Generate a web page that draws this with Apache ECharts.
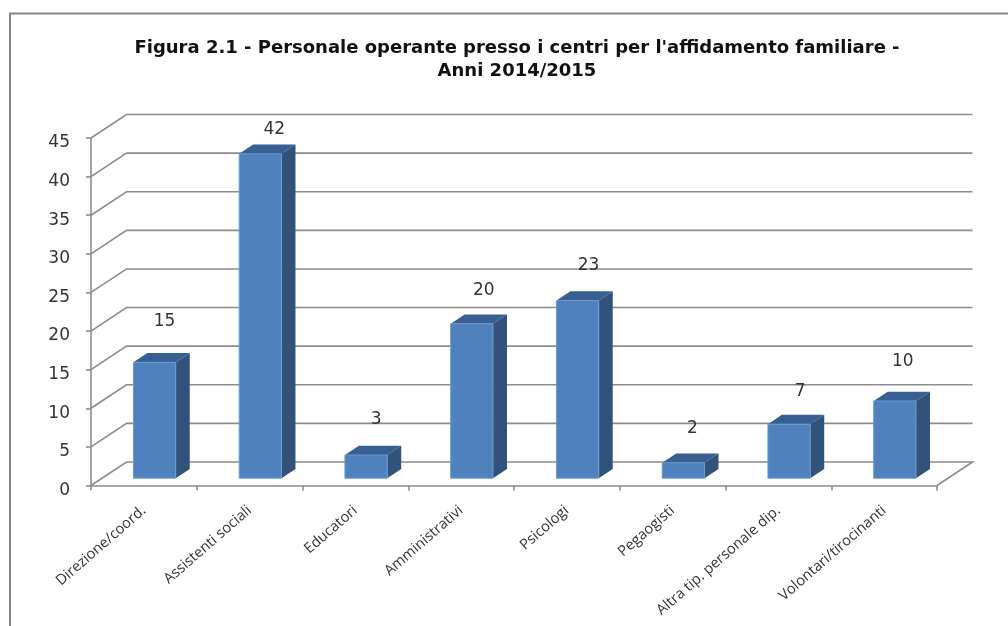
<!DOCTYPE html>
<html>
<head>
<meta charset="utf-8">
<style>html,body{margin:0;padding:0;background:#fff}#c{width:1008px;height:626px}</style>
<script src="https://cdn.jsdelivr.net/npm/echarts@6/dist/echarts.min.js"></script>
</head>
<body>
<div id="c"></div>
<script>
const titleLines = ["Figura 2.1 - Personale operante presso i centri per l'affidamento familiare -", "Anni 2014/2015"];
const categories = ["Direzione/coord.", "Assistenti sociali", "Educatori", "Amministrativi", "Psicologi", "Pegaogisti", "Altra tip. personale dip.", "Volontari/tirocinanti"];
const values = [15, 42, 3, 20, 23, 2, 7, 10];
const yTicks = [0, 5, 10, 15, 20, 25, 30, 35, 40, 45];

// Layout of the pseudo-3D box (pixels)
const wallDepth = [35.5, -23.5];
const barInset = [10.7, -7.3];
const barDepth = [14, -9.3];
const barWidthShare = 0.4;
// Hand-placed data labels in the reference: offset from the bar's top-front centre
const labelShiftX = [10, 14, 10, 12, 11, 9, 11, 8];
const labelLift = [41, 24, 35, 33, 35, 34, 33, 39];

const axisGrey = '#8c8c8c';
const chart = echarts.init(document.getElementById('c'));

function renderWall(params, api) {
  const cs = params.coordSys;
  const y = api.coord([0, api.value(0)])[1];
  const x0 = cs.x, x1 = cs.x + cs.width;
  const pts = [[x0, y], [x0 + wallDepth[0], y + wallDepth[1]], [x1 + wallDepth[0], y + wallDepth[1]]];
  if (api.value(0) === 0) pts.push([x1, y]);
  return {
    type: 'polyline', shape: { points: pts },
    style: { fill: 'none', stroke: axisGrey, lineWidth: 1.6 }
  };
}

function renderBar(params, api) {
  const i = api.value(0), v = api.value(1);
  const w = api.size([1, 0])[0] * barWidthShare;
  const top = api.coord([i, v]), base = api.coord([i, 0]);
  const l = top[0] + barInset[0] - w / 2, r = l + w;
  const t = top[1] + barInset[1], b = base[1] + barInset[1];
  const dx = barDepth[0], dy = barDepth[1];
  return {
    type: 'group',
    children: [
      { type: 'polygon', shape: { points: [[r, t], [r + dx, t + dy], [r + dx, b + dy], [r, b]] },
        style: { fill: '#30527B' } },
      { type: 'polygon', shape: { points: [[l, t], [l + dx, t + dy], [r + dx, t + dy], [r, t]] },
        style: { fill: '#375F91' } },
      { type: 'rect', shape: { x: l, y: t, width: w, height: b - t },
        style: { fill: '#4F81BD', stroke: '#6E9AD0', lineWidth: 1 } },
      { type: 'text',
        style: { x: top[0] + barInset[0] + labelShiftX[i], y: t - labelLift[params.dataIndex],
          text: String(v), fill: '#333333', font: '17px "DejaVu Sans"', align: 'center', verticalAlign: 'middle' } }
    ]
  };
}

chart.setOption({
  animation: false,
  backgroundColor: '#ffffff',
  title: {
    text: titleLines.join('\n'),
    left: 512, top: 32, textAlign: 'center',
    textStyle: { fontFamily: 'DejaVu Sans', fontWeight: 'bold', fontSize: 18, lineHeight: 23, color: '#111111' }
  },
  graphic: [
    { type: 'polyline', shape: { points: [[10, 627], [10, 13.5], [1009, 13.5]] },
      style: { fill: 'none', stroke: '#868686', lineWidth: 2 }, silent: true }
  ],
  grid: { left: 91, right: 71, top: 138, height: 347.5 },
  xAxis: {
    type: 'category', data: categories, boundaryGap: true,
    axisLine: { lineStyle: { color: axisGrey, width: 1.6 } },
    axisTick: { show: true, alignWithLabel: false, length: 5, lineStyle: { color: axisGrey, width: 1.6 } },
    axisLabel: { interval: 0, rotate: 41, margin: 23, fontFamily: 'Open Sans', fontSize: 14.6, color: '#333333' }
  },
  yAxis: {
    type: 'value', min: 0, max: 45, interval: 5,
    axisLine: { show: true, lineStyle: { color: axisGrey, width: 1.6 } },
    axisTick: { show: true, length: 5, lineStyle: { color: axisGrey, width: 1.6 } },
    splitLine: { show: false },
    axisLabel: { margin: 21, verticalAlign: 'top', lineHeight: 10, fontFamily: 'DejaVu Sans', fontSize: 17, color: '#333333' }
  },
  series: [
    { type: 'custom', name: 'griglia', coordinateSystem: 'cartesian2d', z: 1, silent: true, clip: false,
      renderItem: renderWall, data: yTicks.map(t => [t]), encode: { y: 0 } },
    { type: 'custom', name: 'Personale', coordinateSystem: 'cartesian2d', z: 3, clip: false,
      renderItem: renderBar, data: values.map((v, i) => [i, v]), encode: { x: 0, y: 1 } }
  ]
});
</script>
</body>
</html>
